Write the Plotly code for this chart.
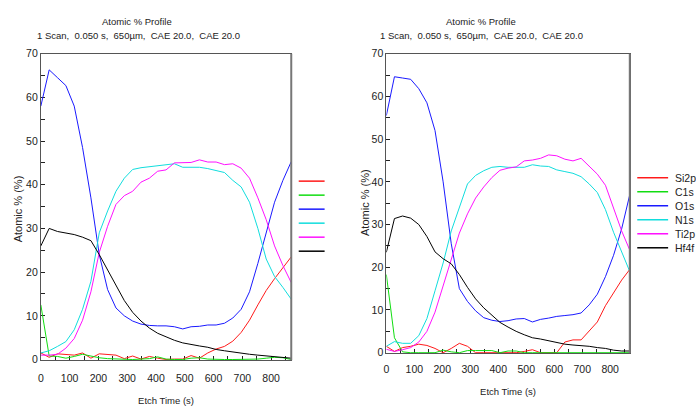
import plotly.graph_objects as go

# ---------------- data ----------------
times = [0, 29, 58, 87, 116, 145, 174, 203, 232, 261, 290, 319, 348, 377, 406, 435,
         464, 493, 522, 551, 580, 609, 638, 667, 696, 725, 754, 783, 812, 841, 870]

element_names = ["Si2p", "C1s", "O1s", "N1s", "Ti2p", "Hf4f"]
element_colors = ["#ff1a1a", "#11dd11", "#1a1aff", "#11dddd", "#ff11ff", "#000000"]

# left profile
left_si2p = [1.5, 0.5, 1.3, 1.2, 1.0, 1.5, 0.3, 1.3, 1.1, 1.0, 0.2, 0.8, 0.1, 0.7, 0.3, 0.0,
             0.1, 0.1, 0.9, 0.3, 1.5, 2.4, 3.0, 4.2, 6.2, 9.0, 12.5, 15.8, 18.5, 21.0, 23.5]
left_c1s = [12.5, 0.8, 0.7, 0.3, 0.7, 1.2, 0.8, 0.4, 0.2, 0.1, 0.1, 0.0, 0.1, 0.2, 0.6, 0.1,
            0.0, 0.0, 0.3, 0.4, 0.1, 0.0, 0.0, 0.0, 0.0, 0.0, 0.1, 0.3, 0.5, 0.4, 0.0]
left_o1s = [58.0, 66.3, 64.5, 62.7, 58.0, 48.5, 37.0, 24.0, 16.0, 11.8, 10.0, 8.8, 8.1, 7.8, 7.7, 7.7,
            7.5, 7.0, 7.5, 7.6, 7.9, 7.9, 8.3, 9.5, 11.5, 15.5, 22.0, 29.0, 36.0, 41.0, 45.3]
left_n1s = [1.5, 2.0, 3.0, 4.1, 6.8, 11.5, 17.9, 29.0, 34.0, 38.5, 41.5, 43.5, 43.9, 44.1, 44.3, 44.5,
            44.8, 44.0, 44.0, 44.0, 43.7, 43.3, 42.8, 41.0, 39.5, 36.0, 30.0, 23.0, 19.0, 16.5, 13.8]
left_ti2p = [1.0, 1.0, 1.2, 2.6, 4.8, 9.0, 15.5, 24.5, 30.5, 35.5, 37.5, 38.5, 40.6, 41.5, 43.1, 43.4,
             45.0, 45.0, 45.1, 45.7, 45.2, 45.2, 44.6, 44.8, 43.8, 41.5, 37.0, 32.0, 26.0, 21.5, 17.6]
left_hf4f = [26.0, 30.0, 29.3, 29.0, 28.6, 28.0, 27.2, 24.0, 20.5, 16.8, 13.5, 10.8, 8.8, 7.2, 6.0, 5.2,
             4.4, 3.8, 3.4, 3.1, 2.8, 2.3, 2.0, 1.7, 1.4, 1.2, 1.0, 0.8, 0.6, 0.5, 0.3]

# right profile
right_si2p = [1.5, 0.3, 1.2, 1.5, 2.0, 1.7, 1.0, 0.0, 1.0, 2.2, 1.5, 0.0, 0.0, 0.0, 0.0, 0.0,
              0.0, 0.3, 0.7, 0.0, 0.0, 0.0, 2.5, 3.0, 3.0, 5.2, 7.2, 11.0, 14.0, 17.0, 19.5]
right_c1s = [18.3, 3.5, 0.2, 0.0, 0.0, 0.0, 0.0, 0.6, 0.2, 0.0, 0.5, 0.5, 0.5, 0.5, 0.0, 0.4,
             0.4, 0.0, 0.0, 0.0, 0.0, 0.0, 0.0, 0.0, 0.0, 0.0, 0.0, 0.0, 0.0, 0.0, 0.0]
right_o1s = [55.5, 64.6, 64.3, 64.0, 61.8, 58.5, 52.0, 40.0, 25.5, 15.0, 12.0, 9.8, 8.2, 7.6, 7.3, 7.5,
             7.9, 8.0, 7.2, 7.8, 8.1, 8.5, 8.7, 8.9, 9.3, 11.2, 13.7, 17.8, 22.8, 29.0, 37.0]
right_n1s = [1.5, 2.6, 2.2, 2.2, 4.0, 8.0, 14.5, 21.0, 28.5, 34.0, 39.5, 41.5, 42.6, 43.4, 43.6, 43.4,
             43.4, 43.4, 44.0, 43.7, 43.6, 42.8, 42.4, 42.0, 41.2, 39.5, 37.5, 33.5, 28.2, 23.7, 19.0]
right_ti2p = [0.8, 0.3, 0.7, 1.2, 2.5, 5.0, 9.5, 15.5, 22.0, 28.0, 32.5, 36.2, 38.8, 41.0, 42.7, 43.2,
              43.5, 44.9, 45.1, 45.5, 46.3, 46.1, 45.3, 44.9, 45.5, 43.7, 41.8, 39.2, 34.0, 28.5, 24.0]
right_hf4f = [23.5, 31.4, 32.0, 31.5, 30.0, 27.2, 23.6, 22.0, 20.8, 18.3, 15.3, 12.6, 10.5, 8.7, 7.1, 6.0,
              5.0, 4.2, 3.5, 3.2, 2.8, 2.4, 2.0, 1.8, 1.7, 1.5, 1.2, 1.0, 0.6, 0.4, 0.4]

chart_title = "Atomic % Profile"
chart_subtitle = "1 Scan,  0.050 s,  650µm,  CAE 20.0,  CAE 20.0"
x_title = "Etch Time (s)"
y_title = "Atomic % (%)"

# ---------------- figure ----------------
W, H = 696, 407
FONT = "Liberation Sans Narrow, Arial Narrow, Liberation Sans, Arial, sans-serif"
TXT = "#222222"

left_series = [left_si2p, left_c1s, left_o1s, left_n1s, left_ti2p, left_hf4f]
right_series = [right_si2p, right_c1s, right_o1s, right_n1s, right_ti2p, right_hf4f]

fig = go.Figure()
for name, color, ys in zip(element_names, element_colors, left_series):
    fig.add_trace(go.Scatter(x=times, y=ys, mode="lines", name=name,
                             line=dict(color=color, width=1),
                             xaxis="x", yaxis="y", showlegend=False))
for name, color, ys in zip(element_names, element_colors, right_series):
    fig.add_trace(go.Scatter(x=times, y=ys, mode="lines", name=name,
                             line=dict(color=color, width=1),
                             xaxis="x2", yaxis="y2", showlegend=False))


def xax(domain, anchor, lab_off, title_off):
    return dict(domain=domain, anchor=anchor, range=[0, 870], tick0=0, dtick=100,
                ticks="inside", ticklen=4, tickcolor="#222", tickwidth=1,
                minor=dict(dtick=50, ticks="inside", ticklen=4, tickcolor="#222"),
                showline=True, linecolor="#555", linewidth=1, mirror=True,
                showgrid=False, zeroline=False, layer="below traces",
                ticklabelstandoff=lab_off,
                tickfont=dict(family=FONT, size=10.5, color=TXT),
                title=dict(text=x_title, font=dict(family=FONT, size=9.5, color=TXT),
                           standoff=title_off))


def yax(domain, anchor):
    return dict(domain=domain, anchor=anchor, range=[-0.15, 70], tick0=0, dtick=10,
                ticks="inside", ticklen=4, tickcolor="#222", tickwidth=1,
                minor=dict(dtick=5, ticks="inside", ticklen=4, tickcolor="#222"),
                showline=True, linecolor="#555", linewidth=1, mirror=True,
                showgrid=False, zeroline=False, layer="below traces",
                tickfont=dict(family=FONT, size=10.5, color=TXT))


fig.update_layout(
    width=W, height=H, autosize=False,
    margin=dict(l=0, r=0, t=0, b=0),
    paper_bgcolor="white", plot_bgcolor="white",
    font=dict(family=FONT, size=11, color=TXT),
    xaxis=xax([38 / W, 289.5 / W], "y", 8, 14),
    yaxis=yax([1 - 364 / H, 1 - 49 / H], "x"),
    xaxis2=xax([385 / W, 629.5 / W], "y2", 6, 14),
    yaxis2=yax([1 - 357 / H, 1 - 49 / H], "x2"),
    showlegend=False,
)

# right-hand frame edges look heavier/grey in the reference
for xr, yr in (("x domain", "y domain"), ("x2 domain", "y2 domain")):
    fig.add_shape(type="line", xref=xr, yref=yr, x0=1, x1=1, y0=0, y1=1,
                  line=dict(color="#777777", width=2))

# custom compact legends (left one without labels, right one labelled)
ROW = 14.4
for i, (name, color) in enumerate(zip(element_names, element_colors)):
    yl = 1 - (180 + i * ROW) / H
    fig.add_shape(type="line", xref="paper", yref="paper",
                  x0=297 / W, x1=323 / W, y0=yl, y1=yl, line=dict(color=color, width=1.5))
    yr_ = 1 - (176.5 + i * ROW) / H
    fig.add_shape(type="line", xref="paper", yref="paper",
                  x0=637 / W, x1=668 / W, y0=yr_, y1=yr_, line=dict(color=color, width=1.5))
    fig.add_annotation(text=name, xref="paper", yref="paper", x=673 / W, y=yr_,
                       showarrow=False, xanchor="left", yanchor="middle",
                       font=dict(family=FONT, size=10.5, color=TXT))

for cx in (135, 480):
    fig.add_annotation(text=chart_title, xref="paper", yref="paper", x=cx / W, y=1 - 16 / H,
                       showarrow=False, xanchor="center", yanchor="middle",
                       font=dict(family=FONT, size=9.5, color=TXT))
    fig.add_annotation(text=chart_subtitle, xref="paper", yref="paper", x=(cx + 1) / W, y=1 - 30 / H,
                       showarrow=False, xanchor="center", yanchor="middle",
                       font=dict(family=FONT, size=9.5, color=TXT))

for cx, cy in ((15, 208), (363, 202)):
    fig.add_annotation(text=y_title, xref="paper", yref="paper", x=cx / W, y=1 - cy / H,
                       showarrow=False, xanchor="center", yanchor="middle", textangle=-90,
                       font=dict(family=FONT, size=11, color=TXT))

fig.write_html("out.html", config={"displayModeBar": False},
               post_script="document.body.style.margin='0';")
